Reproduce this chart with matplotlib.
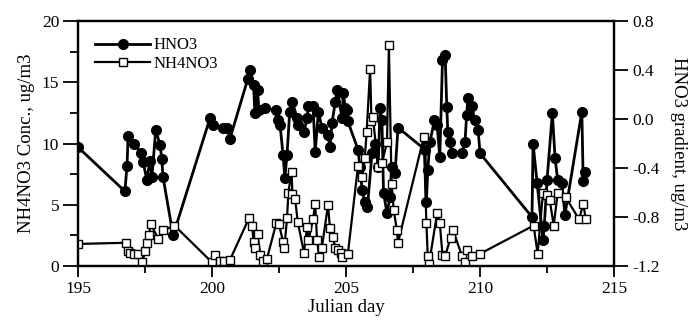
# HNO3 gradient and NH4NO3 concentration vs Julian day

import numpy as np
import matplotlib
matplotlib.use("Agg")
import matplotlib.pyplot as plt
from matplotlib.ticker import MultipleLocator, FormatStrFormatter

plt.rcParams['font.family'] = ['Liberation Serif', 'DejaVu Serif']

# HNO3 gradient (right axis, ug/m3)
hno3_day = [195.0, 196.75, 196.83, 196.87, 197.1, 197.35, 197.43, 197.57, 197.68, 197.76,
            197.9, 198.06, 198.13, 198.17, 198.55, 199.93, 200.04, 200.4, 200.56, 200.67,
            201.34, 201.42, 201.55, 201.6, 201.7, 201.75, 201.98, 202.4, 202.46, 202.54,
            202.65, 202.72, 202.8, 202.9, 203.0, 203.17, 203.2, 203.43, 203.55, 203.6,
            203.77, 203.85, 203.97, 204.1, 204.33, 204.4, 204.48, 204.6, 204.67, 204.85,
            204.9, 204.97, 205.04, 205.07, 205.45, 205.52, 205.6, 205.7, 205.8, 205.97,
            206.1, 206.2, 206.27, 206.34, 206.4, 206.53, 206.64, 206.7, 206.83, 206.94,
            207.95, 208.0, 208.05, 208.13, 208.3, 208.4, 208.5, 208.6, 208.7, 208.76,
            208.8, 208.88, 208.95, 209.33, 209.44, 209.5, 209.55, 209.7, 209.8, 209.93,
            210.0, 211.94, 211.98, 212.13, 212.35, 212.4, 212.5, 212.7, 212.8, 212.9,
            213.05, 213.17, 213.8, 213.85, 213.9]
hno3_grad = [-0.23, -0.59, -0.38, -0.14, -0.20, -0.28, -0.35, -0.50, -0.34, -0.47,
             -0.09, -0.21, -0.33, -0.47, -0.95, 0.01, -0.05, -0.07, -0.07, -0.16,
             0.33, 0.40, 0.28, 0.05, 0.24, 0.07, 0.09, 0.07, -0.01, -0.05,
             -0.29, -0.48, -0.29, 0.06, 0.14, 0.01, -0.05, -0.11, 0.01, 0.11,
             0.11, -0.27, 0.06, -0.07, -0.13, -0.23, -0.03, 0.14, 0.24, 0.01,
             0.21, 0.09, 0.07, -0.02, -0.25, -0.39, -0.58, -0.68, -0.72, -0.28,
             -0.20, -0.39, 0.09, -0.01, -0.60, -0.77, -0.64, -0.39, -0.44, -0.07,
             -0.25, -0.68, -0.42, -0.19, -0.01, -0.05, -0.31, 0.48, 0.52, 0.10,
             -0.11, -0.19, -0.28, -0.28, -0.19, 0.03, 0.17, 0.11, -0.01, -0.09,
             -0.28, -0.80, -0.20, -0.52, -0.99, -0.87, -0.50, 0.05, -0.32, -0.50,
             -0.52, -0.78, 0.06, -0.51, -0.43]

# NH4NO3 concentration (left axis, ug/m3)
nh4_day = [195.0, 196.8, 196.87, 196.95, 197.1, 197.24, 197.4, 197.5, 197.57, 197.65,
           197.72, 198.0, 198.17, 198.6, 200.0, 200.1, 200.3, 200.45, 200.67, 201.38,
           201.5, 201.55, 201.6, 201.7, 201.8, 201.9, 202.05, 202.4, 202.5, 202.65,
           202.7, 202.8, 202.85, 202.97, 203.0, 203.1, 203.2, 203.43, 203.55, 203.6,
           203.77, 203.85, 203.92, 204.0, 204.1, 204.33, 204.4, 204.5, 204.6, 204.7,
           204.8, 204.85, 205.07, 205.45, 205.6, 205.7, 205.77, 205.9, 205.95, 206.0,
           206.2, 206.34, 206.53, 206.6, 206.7, 206.78, 206.9, 206.94, 207.9, 208.0,
           208.05, 208.1, 208.4, 208.5, 208.6, 208.7, 208.9, 209.0, 209.33, 209.44,
           209.5, 209.7, 210.0, 212.0, 212.15, 212.35, 212.5, 212.6, 212.75, 212.9,
           213.2, 213.7, 213.85, 213.95]
nh4_conc = [1.8, 1.9, 1.2, 1.1, 1.0, 1.0, 0.3, 1.2, 1.9, 2.5,
            3.4, 2.2, 2.9, 3.3, 0.3, 0.9, 0.4, 0.4, 0.5, 3.9,
            3.3, 2.0, 1.5, 2.6, 0.9, 0.4, 0.6, 3.5, 3.4, 2.0,
            1.5, 3.9, 6.0, 7.7, 5.9, 5.5, 3.6, 1.1, 3.2, 2.1,
            3.8, 5.1, 2.1, 0.7, 1.5, 5.0, 3.1, 2.4, 1.5, 1.3,
            1.1, 0.7, 1.0, 8.2, 7.3, 8.8, 10.9, 16.1, 11.8, 12.2,
            8.1, 8.4, 10.1, 18.0, 6.7, 4.6, 2.9, 1.9, 10.5, 3.5,
            0.8, 0.2, 4.3, 3.5, 0.9, 0.8, 2.3, 2.9, 0.8, 0.3,
            1.3, 0.8, 1.0, 3.3, 1.0, 6.0, 5.8, 5.4, 3.3, 6.0,
            5.6, 3.8, 5.1, 3.8]

fig = plt.figure(figsize=(6.92, 3.26), dpi=100)
ax = fig.add_axes([0.1127, 0.184, 0.7746, 0.7516])
ax2 = ax.twinx()

# HNO3 on right axis, drawn below the squares
l1, = ax2.plot(hno3_day, hno3_grad, color="black", lw=2.0, marker="o",
               markersize=7, markerfacecolor="black", markeredgecolor="black",
               label="HNO3")
l2, = ax.plot(nh4_day, nh4_conc, color="black", lw=1.6, marker="s",
              markersize=6.2, markerfacecolor="white", markeredgecolor="black",
              markeredgewidth=1.0, label="NH4NO3")
ax.set_zorder(ax2.get_zorder() + 1)
ax.patch.set_visible(False)

ax.set_xlim(195, 215)
ax.set_ylim(0, 20)
ax2.set_ylim(-1.2, 0.8)
ax.xaxis.set_major_locator(MultipleLocator(5))
ax.xaxis.set_minor_locator(MultipleLocator(2.5))
ax.yaxis.set_major_locator(MultipleLocator(5))
ax.yaxis.set_minor_locator(MultipleLocator(2.5))
ax2.yaxis.set_major_locator(MultipleLocator(0.4))
ax2.yaxis.set_major_formatter(FormatStrFormatter("%.1f"))

ax.tick_params(axis="x", which="major", direction="out", length=8, width=1.3,
               labelsize=12.5, pad=3)
ax.tick_params(axis="x", which="minor", direction="out", length=5, width=1.3)
ax.tick_params(axis="y", which="major", direction="out", length=10.5, width=1.3,
               labelsize=12.5, pad=3)
ax.tick_params(axis="y", which="minor", direction="out", length=5.5, width=1.3)
ax2.tick_params(axis="y", which="major", direction="out", length=10, width=1.3,
                labelsize=12.5, pad=3)

for a in (ax, ax2):
    for s in a.spines.values():
        s.set_linewidth(1.6)

ax.set_xlabel("Julian day", fontsize=13.5, labelpad=1)
ax.set_ylabel("NH4NO3 Conc., ug/m3", fontsize=13.5, labelpad=5)
ax2.set_ylabel("HNO3 gradient, ug/m3", fontsize=13.5, rotation=270, labelpad=20)

ax.legend([l1, l2], ["HNO3", "NH4NO3"], loc="upper left", frameon=False,
          fontsize=12, handlelength=3.3, handletextpad=0.2, labelspacing=0.15,
          borderaxespad=0.0, bbox_to_anchor=(0.02, 0.96))

fig.savefig("out.png", dpi=100)
